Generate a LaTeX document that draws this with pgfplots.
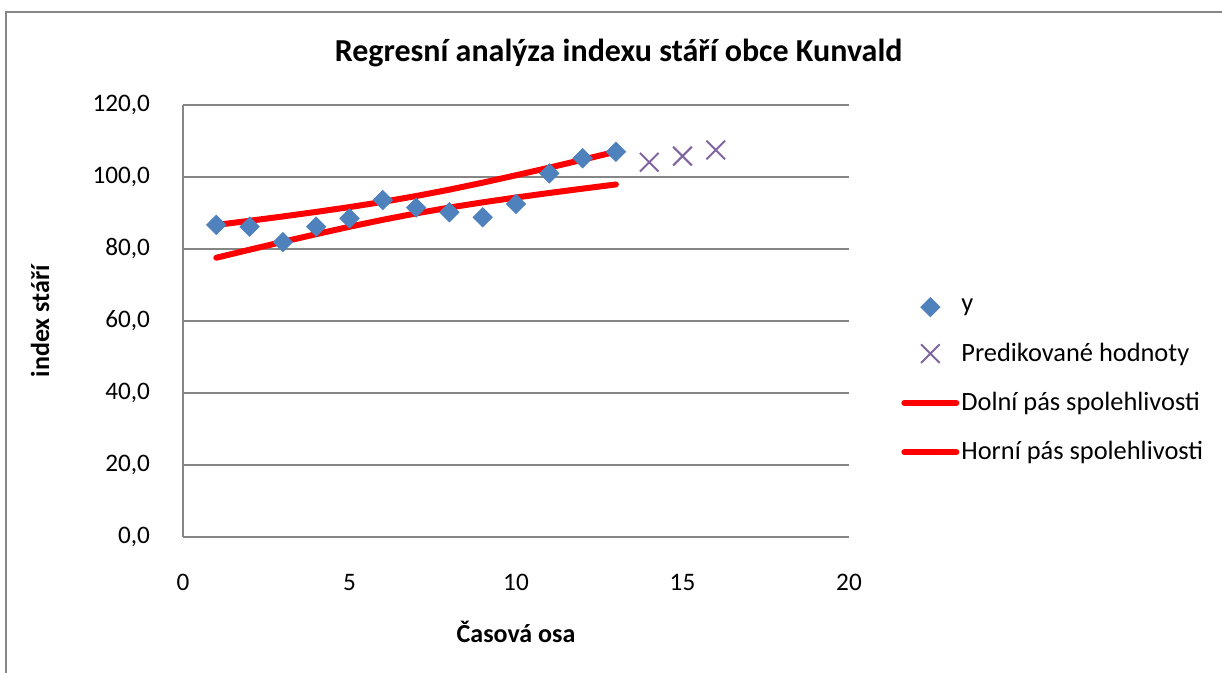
\documentclass[border=0pt]{standalone}
\usepackage{fontspec}
\setmainfont{Carlito}
\usepackage{pgfplots}
\pgfplotsset{compat=1.18}
\definecolor{gridgray}{HTML}{868686}
\definecolor{ptblue}{HTML}{4F81BD}
\definecolor{xpurple}{HTML}{8064A2}
\pgfplotsset{
  markleg/.style={legend image code/.code={\draw[mark repeat=2,mark phase=2,##1] plot coordinates {(0pt,0pt) (13pt,0pt) (26pt,0pt)};}},
  lineleg/.style={legend image code/.code={\draw[##1] (0pt,0pt) -- (26pt,0pt);}},
}
\begin{document}
\begin{tikzpicture}[x=1pt,y=1pt]
\useasboundingbox (0,0) rectangle (611,336.5);
\draw[gridgray,line width=1pt] (3,0) -- (3,330.5) -- (611,330.5);
\node[font=\bfseries\fontsize{16}{19}\selectfont] at (309.3,310) {Regresní analýza indexu stáří obce Kunvald};
\node[font=\bfseries\fontsize{13}{15}\selectfont] at (258,20.5) {Časová osa};
\node[font=\bfseries\fontsize{13}{15}\selectfont,rotate=90] at (20,176) {index stáří};
\begin{axis}[
  at={(91.5pt,68pt)}, anchor=south west,
  scale only axis, width=333pt, height=216pt,
  xmin=0, xmax=20, ymin=0, ymax=120,
  xtick={0,5,10,15,20}, ytick={0,20,...,120},
  axis x line*=bottom, axis y line*=left,
  axis line style={gridgray,line width=0.75pt,-},
  ymajorgrids, grid style={gridgray,line width=0.75pt},
  major tick length=0pt,
  tick label style={font=\fontsize{12.6}{15}\selectfont},
  /pgf/number format/assume math mode=true,
  yticklabel style={/pgf/number format/fixed,/pgf/number format/fixed zerofill,/pgf/number format/precision=1,/pgf/number format/use comma},
  yticklabel style={xshift=-13pt},
  xticklabel style={yshift=-15pt},
  clip=false,
  legend style={draw=none, at={(1.069,0.565)}, anchor=north west,
    font=\fontsize{13.2}{15.5}\selectfont, row sep=12pt,
    nodes={inner sep=1pt}},
  legend cell align=left,
]
\addplot[only marks, mark=square*, mark size=3.4pt, mark options={rotate=45, fill=ptblue, draw=ptblue}, markleg]
  coordinates {(1,86.7) (2,86.2) (3,81.9) (4,86.2) (5,88.5) (6,93.6) (7,91.5) (8,90.2) (9,88.8) (10,92.5) (11,101.0) (12,105.2) (13,107.0)};
\addlegendentry{y}
\addplot[only marks, mark=x, mark size=6.6pt, mark options={draw=xpurple, line width=1pt}, markleg]
  coordinates {(14,104.1) (15,105.8) (16,107.5)};
\addlegendentry{Predikované hodnoty}
\addplot[red, line width=3pt, no marks, line cap=round, lineleg]
  coordinates {(1,77.57) (2,79.80) (3,82.00) (4,84.12) (5,86.18) (6,88.11) (7,89.89) (8,91.51) (9,92.96) (10,94.30) (11,95.56) (12,96.76) (13,97.93)};
\addlegendentry{Dolní pás spolehlivosti}
\addplot[red, line width=3pt, no marks, line cap=round, lineleg]
  coordinates {(1,86.67) (2,87.84) (3,89.04) (4,90.30) (5,91.64) (6,93.09) (7,94.71) (8,96.49) (9,98.42) (10,100.48) (11,102.60) (12,104.80) (13,107.03)};
\addlegendentry{Horní pás spolehlivosti}
\end{axis}
\end{tikzpicture}
\end{document}
